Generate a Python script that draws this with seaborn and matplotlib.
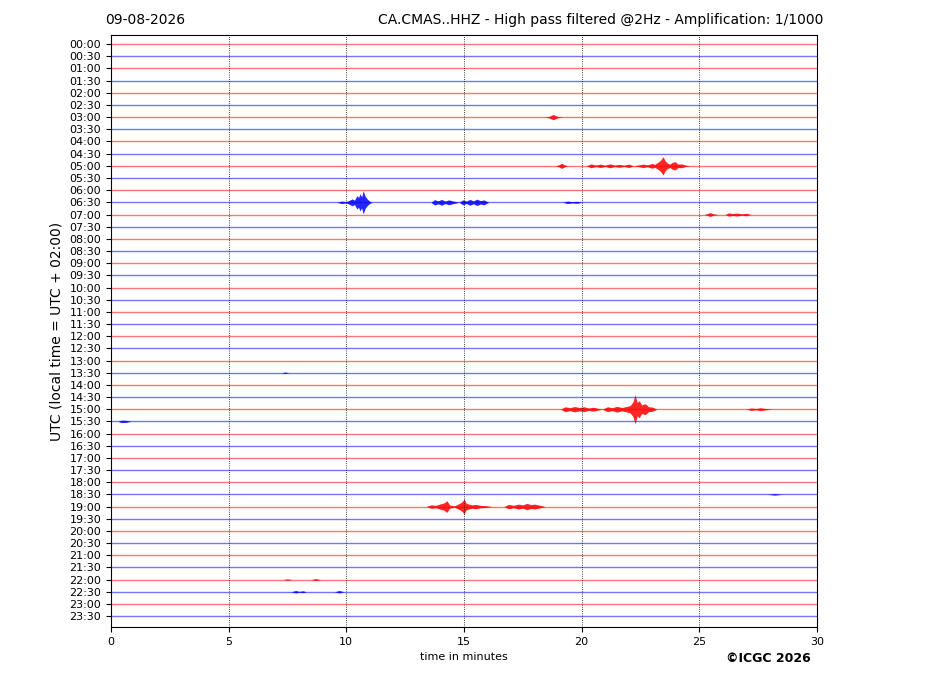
import numpy as np
import pandas as pd
import matplotlib
matplotlib.use("Agg")
import matplotlib.pyplot as plt
import seaborn as sns

# one trace every 30 minutes, 30 minutes long each
row_labels = [f"{h:02d}:{m:02d}" for h in range(24) for m in (0, 30)]
row_colors = ["red" if lab.endswith(":00") else "blue" for lab in row_labels]

# event envelopes: minutes in the trace and half amplitude (in trace spacings)
ev_0300_t = [18.4, 18.6, 18.7, 18.8, 18.9, 19.0, 19.2]
ev_0300_a = [0.0, 0.05, 0.14, 0.22, 0.12, 0.05, 0.0]
ev_0500_t = [18.9, 19.05, 19.15, 19.25, 19.4, 20.2, 20.4, 20.6, 20.8, 21.0, 21.2, 21.4, 21.6,
             21.8, 22.0, 22.2, 22.4, 22.6, 22.8, 23.0, 23.1, 23.25, 23.35, 23.46, 23.55,
             23.65, 23.75, 23.85, 23.97, 24.1, 24.25, 24.4, 24.6]
ev_0500_a = [0.0, 0.1, 0.22, 0.1, 0.0, 0.0, 0.16, 0.06, 0.14, 0.05, 0.16, 0.06, 0.12,
             0.05, 0.14, 0.0, 0.06, 0.14, 0.08, 0.2, 0.12, 0.3, 0.45, 0.75, 0.4,
             0.22, 0.14, 0.28, 0.34, 0.14, 0.16, 0.06, 0.0]
ev_0630_t = [9.6, 9.8, 10.0, 10.1, 10.25, 10.35, 10.45, 10.52, 10.58, 10.65, 10.72, 10.8,
             10.9, 11.0, 11.1, 13.6, 13.75, 13.9, 14.05, 14.2, 14.35, 14.55, 14.8, 14.95,
             15.1, 15.25, 15.4, 15.55, 15.7, 15.85, 16.05, 19.2, 19.4, 19.6, 19.8, 20.0]
ev_0630_a = [0.0, 0.1, 0.05, 0.14, 0.28, 0.18, 0.55, 0.4, 0.7, 0.45, 0.95, 0.5,
             0.25, 0.08, 0.0, 0.0, 0.22, 0.12, 0.24, 0.1, 0.2, 0.1, 0.0, 0.2,
             0.1, 0.24, 0.12, 0.26, 0.14, 0.2, 0.0, 0.0, 0.1, 0.05, 0.08, 0.0]
ev_0700_t = [25.2, 25.35, 25.46, 25.6, 25.8, 26.1, 26.25, 26.4, 26.6, 26.8, 27.0, 27.2]
ev_0700_a = [0.0, 0.08, 0.16, 0.06, 0.0, 0.0, 0.14, 0.08, 0.12, 0.06, 0.1, 0.0]
ev_1330_t = [7.25, 7.4, 7.55]
ev_1330_a = [0.0, 0.06, 0.0]
ev_1500_t = [19.1, 19.3, 19.5, 19.7, 19.9, 20.1, 20.3, 20.5, 20.87, 21.1, 21.3, 21.5,
             21.7, 21.9, 22.06, 22.18, 22.27, 22.36, 22.45, 22.55, 22.7, 22.85, 23.0, 23.2]
ev_1500_a = [0.0, 0.2, 0.12, 0.22, 0.14, 0.2, 0.1, 0.16, 0.0, 0.2, 0.12, 0.24,
             0.14, 0.22, 0.3, 0.6, 1.2, 0.55, 0.7, 0.35, 0.45, 0.2, 0.18, 0.0]
ev_1500b_t = [27.0, 27.2, 27.4, 27.6, 27.8, 28.1]
ev_1500b_a = [0.0, 0.1, 0.06, 0.12, 0.06, 0.0]
ev_1530_t = [0.3, 0.45, 0.65, 0.85]
ev_1530_a = [0.0, 0.1, 0.08, 0.0]
ev_1830_t = [27.9, 28.2, 28.5]
ev_1830_a = [0.0, 0.06, 0.0]
ev_1900_t = [13.4, 13.6, 13.8, 14.0, 14.15, 14.27, 14.4, 14.6, 14.85, 14.95, 15.0, 15.08,
             15.2, 15.35, 15.5, 15.7, 15.9, 16.2]
ev_1900_a = [0.0, 0.14, 0.1, 0.22, 0.3, 0.48, 0.12, 0.06, 0.3, 0.45, 0.66, 0.3,
             0.2, 0.14, 0.18, 0.1, 0.08, 0.0]
ev_1900b_t = [16.7, 16.9, 17.1, 17.3, 17.5, 17.67, 17.85, 18.0, 18.2, 18.45]
ev_1900b_a = [0.0, 0.18, 0.1, 0.2, 0.14, 0.26, 0.16, 0.2, 0.12, 0.0]
ev_2200_t = [7.3, 7.5, 7.7, 8.5, 8.7, 8.9]
ev_2200_a = [0.0, 0.06, 0.0, 0.0, 0.08, 0.0]
ev_2230_t = [7.65, 7.85, 8.0, 8.15, 8.3, 9.5, 9.7, 9.9]
ev_2230_a = [0.0, 0.1, 0.03, 0.08, 0.0, 0.0, 0.1, 0.0]

events = [
    ("03:00", ev_0300_t, ev_0300_a), ("05:00", ev_0500_t, ev_0500_a),
    ("06:30", ev_0630_t, ev_0630_a), ("07:00", ev_0700_t, ev_0700_a),
    ("13:30", ev_1330_t, ev_1330_a), ("15:00", ev_1500_t, ev_1500_a),
    ("15:00", ev_1500b_t, ev_1500b_a), ("15:30", ev_1530_t, ev_1530_a),
    ("18:30", ev_1830_t, ev_1830_a), ("19:00", ev_1900_t, ev_1900_a),
    ("19:00", ev_1900b_t, ev_1900b_a), ("22:00", ev_2200_t, ev_2200_a),
    ("22:30", ev_2230_t, ev_2230_a),
]

sns.set_style("ticks")
plt.rcParams.update({"text.color": "black", "axes.labelcolor": "black",
                     "xtick.color": "black", "ytick.color": "black",
                     "axes.edgecolor": "black"})

# baselines as a long table, one line per trace
base = pd.DataFrame({
    "minute": [0.0, 30.0] * len(row_labels),
    "row": np.repeat(np.arange(len(row_labels)), 2),
    "color": np.repeat(row_colors, 2),
})

fig = plt.figure(figsize=(9.27, 6.96), dpi=100)
ax = fig.add_axes([0.1197, 0.0991, 0.7616, 0.8506])

sns.lineplot(data=base, x="minute", y="row", units="row", estimator=None,
             hue="color", palette={"red": "red", "blue": "blue"}, sort=False,
             legend=False, linewidth=1.0, alpha=0.55, ax=ax)

for lab, t, a in events:
    i = row_labels.index(lab)
    c = row_colors[i]
    t = np.array(t)
    a = np.array(a)
    ax.fill_between(t, i - a, i + a, color=c, linewidth=0, alpha=0.85)

for x in [5, 10, 15, 20, 25]:
    ax.axvline(x, color="black", linestyle=":", linewidth=0.6)

ax.set_xlim(0, 30)
ax.set_ylim(47.9, -0.75)
ax.set_xticks([0, 5, 10, 15, 20, 25, 30])
ax.set_yticks(np.arange(len(row_labels)))
ax.set_yticklabels(row_labels)
ax.tick_params(axis="both", labelsize=8, length=3.5)
ax.set_xlabel("time in minutes", fontsize=8)
ax.set_ylabel("UTC (local time = UTC + 02:00)", fontsize=10)
for s in ax.spines.values():
    s.set_visible(True)
    s.set_color("black")

fig.text(105 / 927, 1 - 20 / 696, "09-08-2026", fontsize=10, va="center", ha="left")
fig.text(823 / 927, 1 - 20 / 696,
         "CA.CMAS..HHZ - High pass filtered @2Hz - Amplification: 1/1000",
         fontsize=10, va="center", ha="right")
fig.text(811 / 927, 1 - 658 / 696, "©ICGC 2026", fontsize=9, fontweight="bold",
         family="Liberation Sans Narrow", va="center", ha="right")

fig.savefig("out.png", dpi=100)
